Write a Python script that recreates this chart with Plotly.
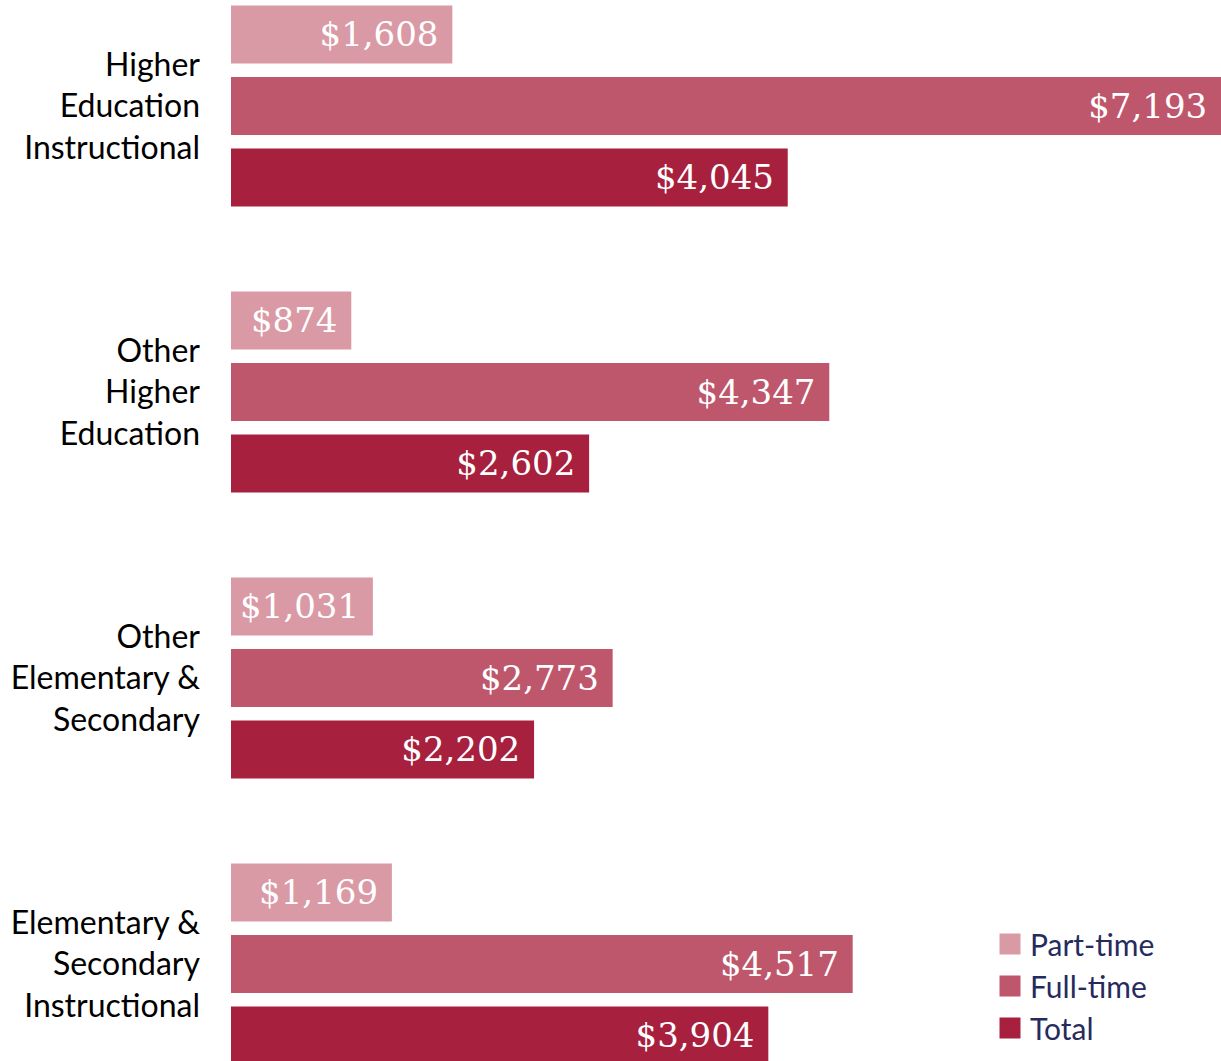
import plotly.graph_objects as go

categories = [
    "Elementary &<br>Secondary<br>Instructional",
    "Other<br>Elementary &<br>Secondary",
    "Other<br>Higher<br>Education",
    "Higher<br>Education<br>Instructional",
]
part_time = [1169, 1031, 874, 1608]
full_time = [4517, 2773, 4347, 7193]
total = [3904, 2202, 2602, 4045]

series = [
    ("Total", total, "#A7203E"),
    ("Full-time", full_time, "#BE576C"),
    ("Part-time", part_time, "#D99AA6"),
]

fig = go.Figure()
for name, vals, color in series:
    fig.add_trace(go.Bar(
        y=categories, x=vals, orientation="h", name=name,
        marker=dict(color=color, line=dict(width=0)),
        texttemplate="$%{x:,}\u00a0",
        textposition="inside", insidetextanchor="end",
        constraintext="none", cliponaxis=False,
        insidetextfont=dict(family="DejaVu Serif", size=34, color="white"),
        showlegend=False,
    ))

for name, vals, color in reversed(series):
    fig.add_trace(go.Scatter(
        x=[None], y=[None], mode="markers", name=name,
        marker=dict(symbol="square", size=16, color=color,
                    line=dict(color=color, width=5)),
    ))

fig.update_layout(
    width=1221, height=1061, autosize=False,
    margin=dict(l=231, r=0, t=0, b=0),
    paper_bgcolor="white", plot_bgcolor="white",
    barmode="group", bargap=0.25, bargroupgap=0.19,
    xaxis=dict(range=[0, 7193], visible=False, fixedrange=True),
    yaxis=dict(range=[-0.3392, 3.3706], showgrid=False, zeroline=False,
               showline=False, ticks="", ticklabelstandoff=30,
               tickfont=dict(family="Lato", size=32, color="black")),
    legend=dict(x=(990 - 231) / 990, xanchor="left", y=1 - 918 / 1061, yanchor="top",
                font=dict(family="Lato", size=30, color="#262B5E"),
                bgcolor="rgba(0,0,0,0)", tracegroupgap=0, itemsizing="trace"),
    showlegend=True,
)

fig.write_html(
    "out.html",
    config={"responsive": False, "displayModeBar": False},
    post_script="document.body.style.margin='0';document.body.style.overflow='hidden';",
)
